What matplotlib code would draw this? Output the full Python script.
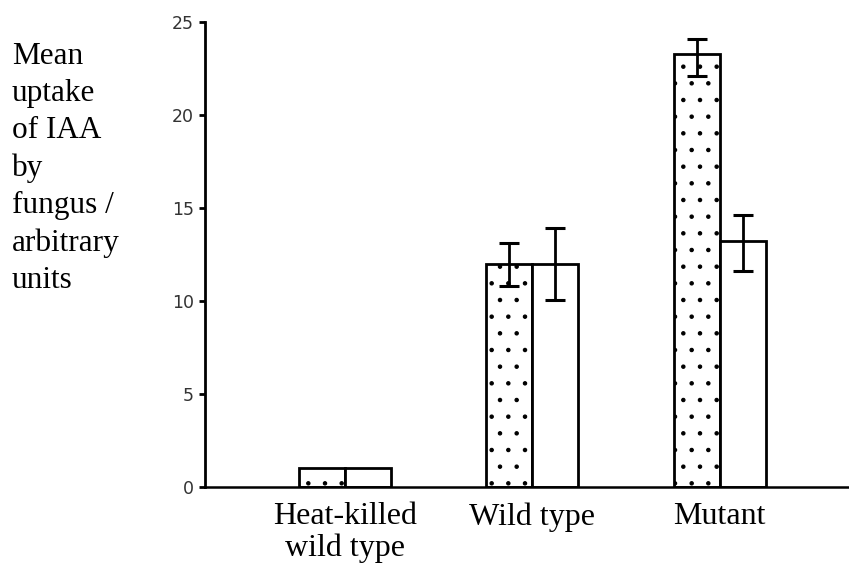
import numpy as np
import matplotlib
matplotlib.use('Agg')
import matplotlib.pyplot as plt

# Data
groups = ['Heat-killed\nwild type', 'Wild type', 'Mutant']
stippled_mean = [1.0, 12.0, 23.3]
stippled_low = [np.nan, 10.8, 22.1]
stippled_high = [np.nan, 13.1, 24.1]
open_mean = [1.0, 12.0, 13.2]
open_low = [np.nan, 10.05, 11.6]
open_high = [np.nan, 13.9, 14.6]
y_ticks = [0, 5, 10, 15, 20, 25]

BAR_W = 0.245
SERIF = 'Liberation Serif'

plt.rcParams['hatch.linewidth'] = 0.8
plt.rcParams['hatch.color'] = '#333333'

fig = plt.figure(figsize=(8.49, 5.65), dpi=100)
ax = fig.add_axes([205 / 849, 78 / 565, 644 / 849, 465 / 565])

x = np.arange(1, len(groups) + 1)
ax.bar(x - BAR_W / 2, stippled_mean, BAR_W, color='white', edgecolor='black',
       linewidth=2.0, hatch='.', zorder=2)
ax.bar(x + BAR_W / 2, open_mean, BAR_W, color='white', edgecolor='black',
       linewidth=2.0, zorder=2)


def draw_err(xs, mean, low, high):
    mean = np.array(mean)
    low = np.array(low)
    high = np.array(high)
    ok = ~np.isnan(low)
    yerr = [mean[ok] - low[ok], high[ok] - mean[ok]]
    ax.errorbar(xs[ok], mean[ok], yerr=yerr, fmt='none', ecolor='black',
                elinewidth=2.0, capsize=7, capthick=2.2, zorder=3)


draw_err(x - BAR_W / 2, stippled_mean, stippled_low, stippled_high)
draw_err(x + BAR_W / 2, open_mean, open_low, open_high)

ax.set_xlim(0.255, 3.69)
ax.set_ylim(0, 25)
ax.set_yticks(y_ticks)
ax.set_yticklabels([str(t) for t in y_ticks], fontsize=12.5, color='#333333')
ax.tick_params(axis='y', length=4, width=2, pad=4)
ax.set_xticks(x)
ax.set_xticklabels(groups, fontsize=23, family=SERIF, linespacing=1.12)
ax.tick_params(axis='x', length=0, pad=11)

for side in ['top', 'right']:
    ax.spines[side].set_visible(False)
ax.spines['left'].set_linewidth(2.0)
ax.spines['bottom'].set_linewidth(1.8)

fig.text(12 / 849, 1 - 42 / 565,
         'Mean\nuptake\nof IAA\nby\nfungus /\narbitrary\nunits',
         ha='left', va='top', fontsize=22.5, family=SERIF, linespacing=1.37)

fig.savefig('out.png', dpi=100)
